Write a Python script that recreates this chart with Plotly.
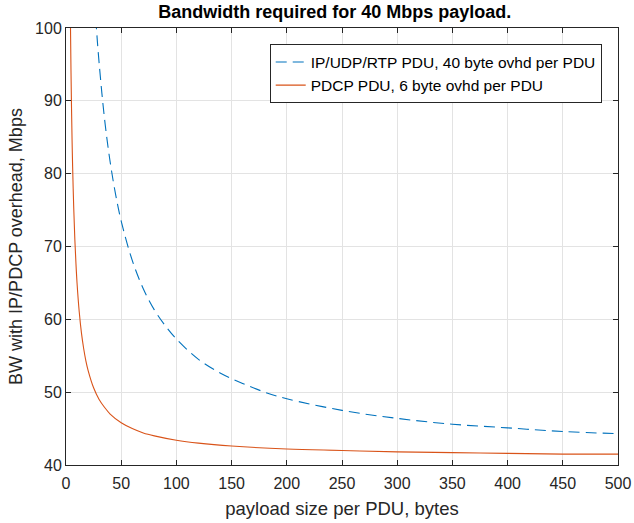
import plotly.graph_objects as go

# payload size (bytes) and bandwidth (Mbps)
ip_payload = [25, 27.5, 30, 35, 40, 45, 50, 60, 70, 80, 90, 100, 120, 140, 160, 180,
              200, 250, 300, 350, 400, 450, 500]
ip_bw = [106.0, 100.1, 95.2, 87.4, 81.6, 77.1, 73.5, 68.1, 64.2, 61.3, 59.1, 57.3,
         54.5, 52.6, 51.2, 50.0, 49.1, 47.5, 46.4, 45.6, 45.1, 44.6, 44.3]

pdcp_payload = [4, 4.5, 5, 5.5, 6, 7, 8, 9, 10, 12, 14, 16, 18, 20, 25, 30, 35, 40, 50,
                60, 70, 80, 100, 120, 150, 200, 250, 300, 350, 400, 450, 500]
pdcp_bw = [101.0, 94.3, 89.0, 84.6, 81.0, 75.3, 71.0, 67.7, 65.0, 61.0, 58.1, 56.0, 54.3,
           53.0, 50.6, 49.0, 47.9, 47.0, 45.8, 45.0, 44.4, 44.0, 43.4, 43.0, 42.6, 42.2,
           42.0, 41.8, 41.7, 41.6, 41.5, 41.5]

x_ticks = [0, 50, 100, 150, 200, 250, 300, 350, 400, 450, 500]
y_ticks = [40, 50, 60, 70, 80, 90, 100]

FONT = "Liberation Sans, Arial, sans-serif"

fig = go.Figure()
fig.add_trace(go.Scatter(
    x=ip_payload, y=ip_bw, mode="lines", line_shape="spline",
    name="IP/UDP/RTP PDU, 40 byte ovhd per PDU",
    line=dict(color="#0072BD", width=1.1, dash="11px,6px"),
))
fig.add_trace(go.Scatter(
    x=pdcp_payload, y=pdcp_bw, mode="lines", line_shape="spline",
    name="PDCP PDU, 6 byte ovhd per PDU",
    line=dict(color="#D95319", width=1.1),
))

axis_common = dict(
    showline=True, linecolor="#262626", linewidth=1, mirror="ticks",
    ticks="inside", ticklen=5, tickcolor="#262626",
    showgrid=True, gridcolor="#e3e3e3", gridwidth=1, automargin=False,
    zeroline=False, tickfont=dict(family=FONT, size=16, color="#262626"),
)

fig.update_layout(
    width=634, height=523,
    margin=dict(l=65.5, r=15.7, t=27.6, b=58),
    paper_bgcolor="white", plot_bgcolor="white",
    title=dict(text="<b>Bandwidth required for 40 Mbps payload.</b>",
               x=0.528, xanchor="center", y=0.977, yanchor="middle",
               font=dict(family=FONT, size=18, color="black")),
    xaxis=dict(range=[0, 500], tickvals=x_ticks, ticklabelstandoff=4,
               title=dict(text="payload size per PDU, bytes",
                          font=dict(family=FONT, size=18.5, color="#262626"), standoff=10),
               **axis_common),
    yaxis=dict(range=[40, 100], tickvals=y_ticks,
               title=dict(text="BW with IP/PDCP overhead, Mbps",
                          font=dict(family=FONT, size=18, color="#262626"), standoff=7),
               **axis_common),
    legend=dict(x=0.9705, y=0.9625, xanchor="right", yanchor="top",
                bgcolor="white", bordercolor="#262626", borderwidth=1,
                font=dict(family=FONT, size=15.5, color="black"),
                tracegroupgap=0, itemwidth=30),
    showlegend=True,
)

fig.write_html("out.html",
               config={"displayModeBar": False},
               post_script="document.body.style.margin='0';document.body.style.padding='0';")
